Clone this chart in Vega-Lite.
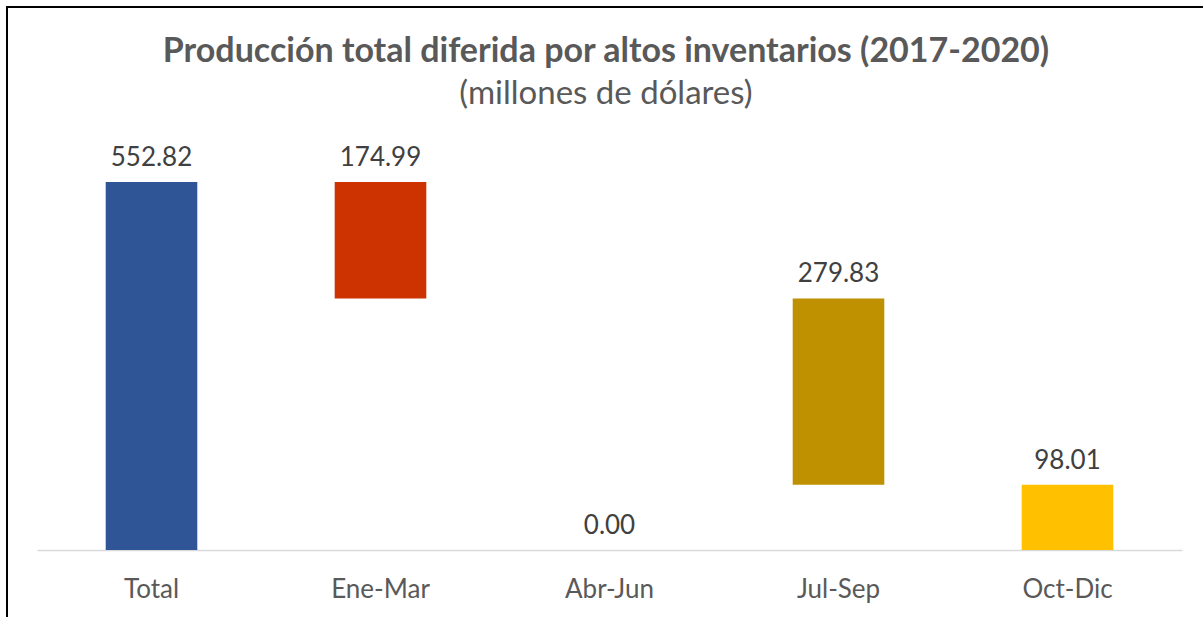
{
  "$schema": "https://vega.github.io/schema/vega-lite/v6.json",
  "autosize": {"type": "none"},
  "padding": {"left": 7, "top": 7, "right": 0, "bottom": 0},
  "width": 1198,
  "height": 612,
  "background": "white",
  "config": {
    "view": {"stroke": "black", "strokeWidth": 2},
    "font": "Lato"
  },
  "title": {
    "text": "Producción total diferida por altos inventarios (2017-2020)",
    "subtitle": "(millones de dólares)",
    "anchor": "middle",
    "frame": "group",
    "font": "Lato",
    "fontSize": 34,
    "fontWeight": "bold",
    "color": "#595959",
    "subtitleFont": "Lato",
    "subtitleFontSize": 33,
    "subtitleFontWeight": "normal",
    "subtitleColor": "#595959",
    "subtitlePadding": 9,
    "offset": -104
  },
  "data": {
    "values": [
      {"cat": "Total", "low": 0, "high": 552.82, "value": 552.82},
      {"cat": "Ene-Mar", "low": 377.83, "high": 552.82, "value": 174.99},
      {"cat": "Abr-Jun", "low": 0, "high": 0, "value": 0.00},
      {"cat": "Jul-Sep", "low": 98.01, "high": 377.83, "value": 279.83},
      {"cat": "Oct-Dic", "low": 0, "high": 98.01, "value": 98.01}
    ]
  },
  "encoding": {
    "x": {
      "field": "cat",
      "type": "nominal",
      "sort": null,
      "scale": {"range": [30, 1175], "paddingInner": 0.6, "paddingOuter": 0.3},
      "axis": {
        "title": null,
        "orient": "bottom",
        "offset": -69,
        "labelAngle": 0,
        "labelFont": "Lato",
        "labelFontSize": 26,
        "labelColor": "#595959",
        "labelPadding": 26,
        "ticks": false,
        "domainColor": "#D9D9D9",
        "domainWidth": 1.5,
        "grid": false
      }
    }
  },
  "layer": [
    {
      "mark": {"type": "bar"},
      "encoding": {
        "y": {
          "field": "low",
          "type": "quantitative",
          "scale": {"domain": [-103.65, 815.7], "nice": false, "zero": false},
          "axis": null
        },
        "y2": {"field": "high"},
        "color": {
          "field": "cat",
          "type": "nominal",
          "scale": {
            "domain": ["Total", "Ene-Mar", "Abr-Jun", "Jul-Sep", "Oct-Dic"],
            "range": ["#2F5597", "#CC3300", "#A5A5A5", "#BF9000", "#FFC000"]
          },
          "legend": null
        }
      }
    },
    {
      "mark": {"type": "text", "baseline": "alphabetic", "dy": -16, "font": "Lato", "fontSize": 26, "color": "#404040"},
      "encoding": {
        "y": {"field": "high", "type": "quantitative"},
        "text": {"field": "value", "type": "quantitative", "format": ".2f"}
      }
    }
  ]
}
